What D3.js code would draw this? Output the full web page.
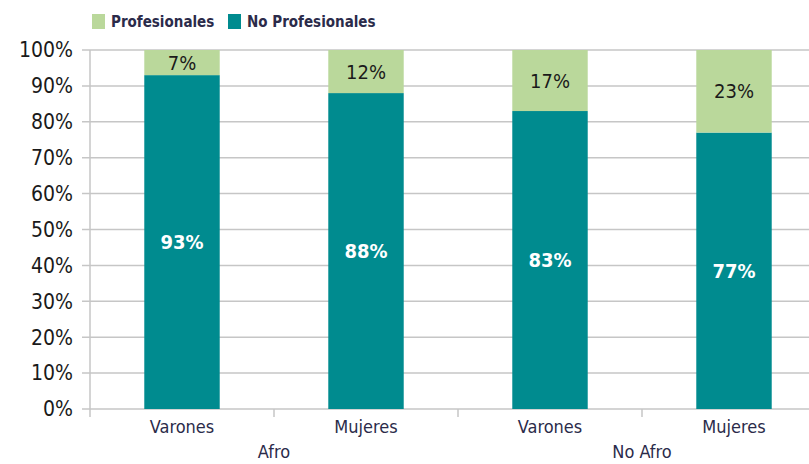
<!DOCTYPE html>
<html>
<head>
<meta charset="utf-8">
<script src="https://cdn.jsdelivr.net/npm/d3@7"></script>
<style>
  body { margin: 0; background: #fff; }
  svg text { font-family: "Liberation Sans Narrow", "DejaVu Sans Condensed", "Open Sans", sans-serif; }
</style>
</head>
<body>
<div id="div"></div>
<script>
var groups = ['Afro', 'Afro', 'No Afro', 'No Afro'];
var categories = ['Varones', 'Mujeres', 'Varones', 'Mujeres'];
var noProfesionales = [93, 88, 83, 77];
var profesionales = [7, 12, 17, 23];
var yTicks = [0, 10, 20, 30, 40, 50, 60, 70, 80, 90, 100];

var width = 809, height = 464;
var svg = d3.select('#div').append('svg')
    .attr('width', width)
    .attr('height', height);

var plotLeft = 90, plotRight = 826, plotTop = 50, plotBottom = 409;

var x = d3.scaleBand()
    .domain(d3.range(categories.length))
    .range([plotLeft, plotRight])
    .paddingInner(0.59)
    .paddingOuter(0.295);

var y = d3.scaleLinear().domain([0, 100]).range([plotBottom, plotTop]);

var teal = '#008b8f', green = '#bad89b', gridCol = '#c6c6c6';

// grid lines
svg.append('g').selectAll('line')
    .data(yTicks)
    .enter().append('line')
    .attr('x1', plotLeft - 8)
    .attr('x2', width)
    .attr('y1', function (d) { return y(d) })
    .attr('y2', function (d) { return y(d) })
    .style('stroke', gridCol)
    .style('stroke-width', 1.5);

// y labels
svg.append('g').selectAll('text')
    .data(yTicks)
    .enter().append('text')
    .attr('x', 73)
    .attr('y', function (d) { return y(d) })
    .attr('dy', '0.35em')
    .attr('text-anchor', 'end')
    .style('font-size', '21px')
    .style('fill', '#1a1a1a')
    .text(function (d) { return d + '%' });

// left axis line
svg.append('line')
    .attr('x1', plotLeft).attr('x2', plotLeft)
    .attr('y1', plotTop).attr('y2', plotBottom + 8)
    .style('stroke', gridCol).style('stroke-width', 1.5);

// category separator ticks
var step = x.step();
svg.append('g').selectAll('line')
    .data(d3.range(1, categories.length + 1))
    .enter().append('line')
    .attr('x1', function (i) { return plotLeft + i * step })
    .attr('x2', function (i) { return plotLeft + i * step })
    .attr('y1', plotBottom)
    .attr('y2', plotBottom + 8)
    .style('stroke', gridCol).style('stroke-width', 1.5);

// bars
var bars = svg.append('g');
bars.selectAll('rect.np')
    .data(noProfesionales)
    .enter().append('rect')
    .attr('class', 'np')
    .attr('x', function (d, i) { return x(i) })
    .attr('width', x.bandwidth())
    .attr('y', function (d) { return y(d) })
    .attr('height', function (d) { return y(0) - y(d) })
    .style('fill', teal);

bars.selectAll('rect.p')
    .data(profesionales)
    .enter().append('rect')
    .attr('class', 'p')
    .attr('x', function (d, i) { return x(i) })
    .attr('width', x.bandwidth())
    .attr('y', function (d, i) { return y(noProfesionales[i] + d) })
    .attr('height', function (d) { return y(0) - y(d) })
    .style('fill', green);

// value labels
bars.selectAll('text.np')
    .data(noProfesionales)
    .enter().append('text')
    .attr('x', function (d, i) { return x(i) + x.bandwidth() / 2 })
    .attr('y', function (d) { return y(d / 2) })
    .attr('dy', '0.35em')
    .attr('text-anchor', 'middle')
    .style('font-size', '20px')
    .style('font-weight', 'bold')
    .style('fill', '#fff')
    .text(function (d) { return d + '%' });

bars.selectAll('text.p')
    .data(profesionales)
    .enter().append('text')
    .attr('x', function (d, i) { return x(i) + x.bandwidth() / 2 })
    .attr('y', function (d, i) { return y(noProfesionales[i] + d / 2) })
    .attr('dy', '0.35em')
    .attr('text-anchor', 'middle')
    .style('font-size', '20px')
    .style('fill', '#1a1a1a')
    .text(function (d) { return d + '%' });

// category labels
svg.append('g').selectAll('text')
    .data(categories)
    .enter().append('text')
    .attr('x', function (d, i) { return x(i) + x.bandwidth() / 2 })
    .attr('y', 427)
    .attr('dy', '0.35em')
    .attr('text-anchor', 'middle')
    .style('font-size', '18px')
    .style('fill', '#2b2b4a')
    .text(function (d) { return d });

// group labels
var groupNames = Array.from(new Set(groups));
svg.append('g').selectAll('text')
    .data(groupNames)
    .enter().append('text')
    .attr('x', function (g) {
        var idx = groups.map(function (v, i) { return v === g ? i : -1 }).filter(function (i) { return i >= 0 });
        return plotLeft + (idx[0] + idx[idx.length - 1] + 1) / 2 * step;
    })
    .attr('y', 452)
    .attr('dy', '0.35em')
    .attr('text-anchor', 'middle')
    .style('font-size', '18px')
    .style('fill', '#2b2b4a')
    .text(function (d) { return d });

// legend
var legendItems = [
    { name: 'Profesionales', color: green, x: 92 },
    { name: 'No Profesionales', color: teal, x: 228 }
];
var lg = svg.append('g').selectAll('g')
    .data(legendItems)
    .enter().append('g')
    .attr('transform', function (d) { return 'translate(' + d.x + ',14)' });
lg.append('rect')
    .attr('width', 13).attr('height', 15)
    .style('fill', function (d) { return d.color });
lg.append('text')
    .attr('x', 19).attr('y', 8)
    .attr('dy', '0.35em')
    .style('font-size', '15px')
    .style('font-weight', 'bold')
    .style('fill', '#2b2b4a')
    .text(function (d) { return d.name });
</script>
</body>
</html>
